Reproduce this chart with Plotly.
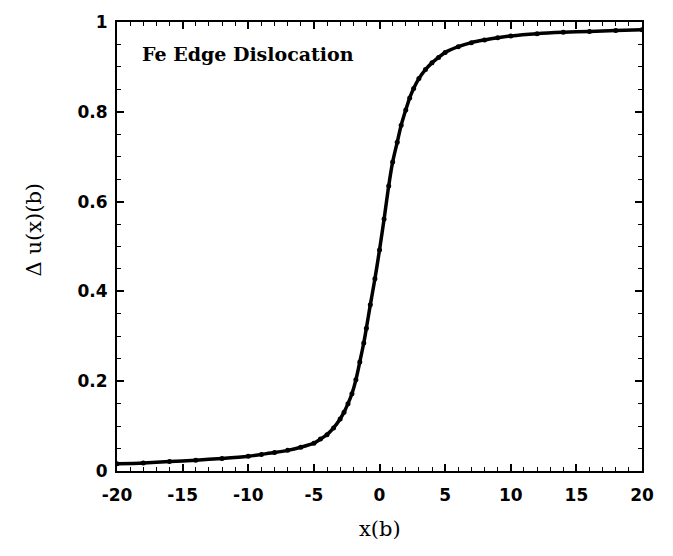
import plotly.graph_objects as go

# displacement profile values
x_b = [-20, -18, -16, -14, -12, -10, -9, -8, -7, -6, -5, -4.5, -4, -3.5, -3, -2.7,
       -2.4, -2.1, -1.8, -1.5, -1.2, -1.0, -0.7, -0.35, 0, 0.35, 0.7, 1.0, 1.35,
       1.65, 2.0, 2.3, 2.6, 3.0, 3.5, 4.0, 4.5, 5.0, 6, 7, 8, 9, 10, 12, 14, 16, 18, 20]
du = [0.016, 0.018, 0.021, 0.024, 0.028, 0.033, 0.037, 0.041, 0.046, 0.053, 0.062,
      0.071, 0.081, 0.096, 0.116, 0.131, 0.150, 0.172, 0.203, 0.243, 0.285, 0.318,
      0.370, 0.428, 0.492, 0.561, 0.635, 0.688, 0.732, 0.770, 0.804, 0.831, 0.852,
      0.874, 0.894, 0.909, 0.921, 0.932, 0.945, 0.954, 0.960, 0.965, 0.969, 0.974,
      0.977, 0.979, 0.981, 0.983]

x_ticks = [-20, -15, -10, -5, 0, 5, 10, 15, 20]
y_ticks = [0, 0.2, 0.4, 0.6, 0.8, 1]
y_tick_labels = ["0", "0.2", "0.4", "0.6", "0.8", "1"]

fig = go.Figure()
fig.add_trace(go.Scatter(
    x=x_b, y=du, mode="lines+markers",
    line=dict(color="black", width=3.5, shape="spline", smoothing=0.8),
    marker=dict(color="black", size=5),
    showlegend=False,
))

tickfont = dict(family="DejaVu Sans", size=17, color="black", weight="bold")
axis_common = dict(
    showgrid=False, zeroline=False, showline=True, linecolor="black", linewidth=2,
    mirror="allticks", ticks="inside", ticklen=7, tickwidth=1.5, tickcolor="black",
    tickfont=tickfont,
)
fig.update_xaxes(range=[-20, 20], tickvals=x_ticks, ticktext=[str(v) for v in x_ticks],
                 minor=dict(dtick=1, ticks="inside", ticklen=4, tickcolor="black", tickwidth=1),
                 ticklabelstandoff=8, **axis_common)
fig.update_yaxes(range=[0, 1], tickvals=y_ticks, ticktext=y_tick_labels,
                 minor=dict(dtick=0.05, ticks="inside", ticklen=4, tickcolor="black", tickwidth=1),
                 ticklabelstandoff=4, **axis_common)

fig.add_annotation(x=0.0438, y=0.928, xref="paper", yref="paper", xanchor="left",
                   yanchor="middle", showarrow=False, text="Fe Edge Dislocation",
                   font=dict(family="DejaVu Serif", size=19, color="black", weight="bold"))
fig.add_annotation(x=-0.158, y=0.536, xref="paper", yref="paper", textangle=-90,
                   xanchor="center", yanchor="middle", showarrow=False, text="Δ u(x)(b)",
                   font=dict(family="DejaVu Serif", size=21, color="black"))
fig.add_annotation(x=0.501, y=-0.130, xref="paper", yref="paper",
                   xanchor="center", yanchor="middle", showarrow=False, text="x(b)",
                   font=dict(family="DejaVu Serif", size=21, color="black"))

fig.update_layout(
    width=673, height=556, autosize=False,
    margin=dict(l=117, r=31, t=18, b=85),
    paper_bgcolor="white", plot_bgcolor="white",
)

fig.write_html("out.html")
